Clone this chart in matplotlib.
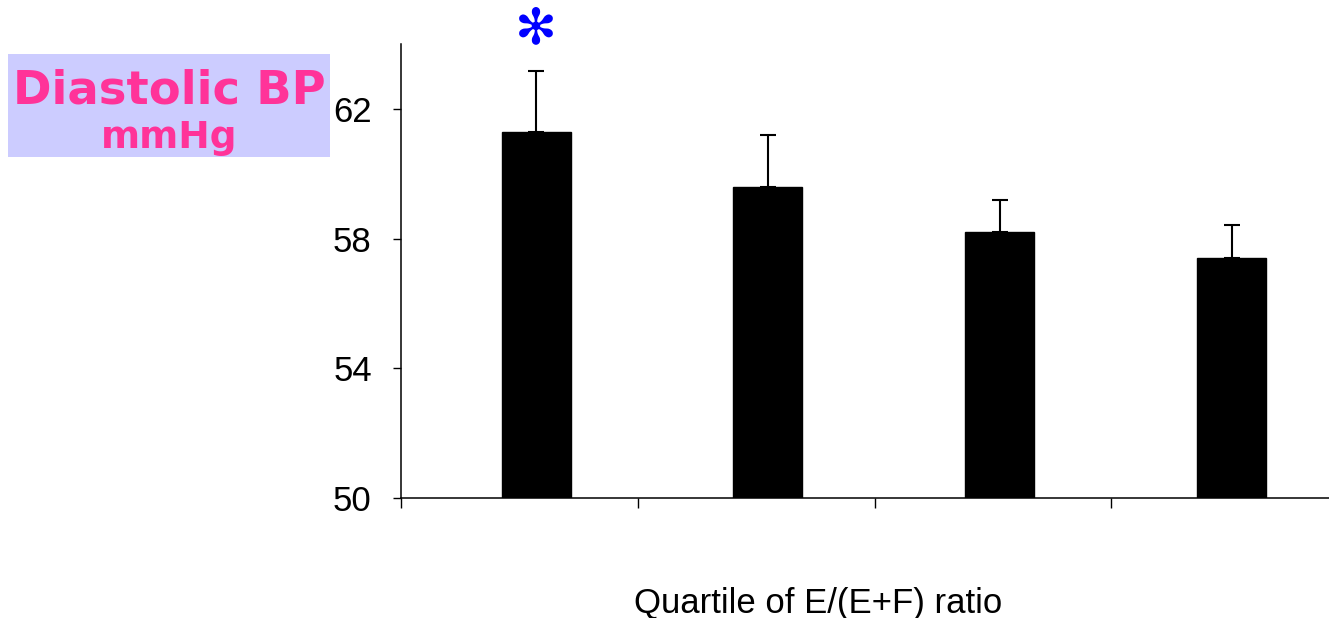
import matplotlib.pyplot as plt
from matplotlib.patches import Rectangle

# quartiles of E/(E+F) ratio
quartiles = [0, 1, 2, 3]
dbp_mean = [61.3, 59.6, 58.2, 57.4]
dbp_err = [1.88, 1.6, 1.0, 1.02]
y_ticks = [50, 54, 58, 62]
sep_ticks = [-0.583, 0.44, 1.463, 2.48]

plt.rcParams['font.family'] = ['Liberation Sans', 'DejaVu Sans']

fig = plt.figure(figsize=(13.29, 6.18), dpi=100)
ax = fig.add_axes([0.3017, 0.1942, 0.6983, 0.7346])

ax.bar(quartiles, dbp_mean, width=0.298, color='black', edgecolor='black')
ax.errorbar(quartiles, dbp_mean, yerr=[[0] * 4, dbp_err], fmt='none',
            ecolor='black', elinewidth=1.5, capsize=6, capthick=1.5)

ax.set_ylim(50, 64)
ax.set_xlim(-0.583, 3.42)
ax.set_yticks(y_ticks)
ax.set_xticks(sep_ticks)
ax.set_xticklabels([])
ax.tick_params(axis='y', direction='out', length=6, width=1, labelsize=25, pad=15)
ax.tick_params(axis='x', direction='out', length=7, width=1)
for s in ['top', 'right']:
    ax.spines[s].set_visible(False)
for s in ['left', 'bottom']:
    ax.spines[s].set_linewidth(1.1)

ax.set_xlabel('Quartile of E/(E+F) ratio', fontsize=25)
ax.xaxis.set_label_coords(0.449, -0.195)

# significance marker on first quartile
ax.text(quartiles[0], 64.45, '\u273b', color='#0000ff', fontsize=36,
        ha='center', va='center', family=['DejaVu Sans'], clip_on=False)

# title box
fig.patches.append(Rectangle((8 / 1329, 1 - 157 / 618), 322 / 1329, 103 / 618,
                             transform=fig.transFigure, facecolor='#ccccff',
                             edgecolor='none'))
fig.text(169 / 1329, 1 - 103 / 618, 'Diastolic BP', color='#ff3399',
         fontsize=33.5, fontweight='bold', ha='center', va='baseline',
         family=['DejaVu Sans'])
fig.text(169 / 1329, 1 - 148 / 618, 'mmHg', color='#ff3399',
         fontsize=27, fontweight='bold', ha='center', va='baseline',
         family=['DejaVu Sans'])

fig.savefig('out.png', dpi=100)
